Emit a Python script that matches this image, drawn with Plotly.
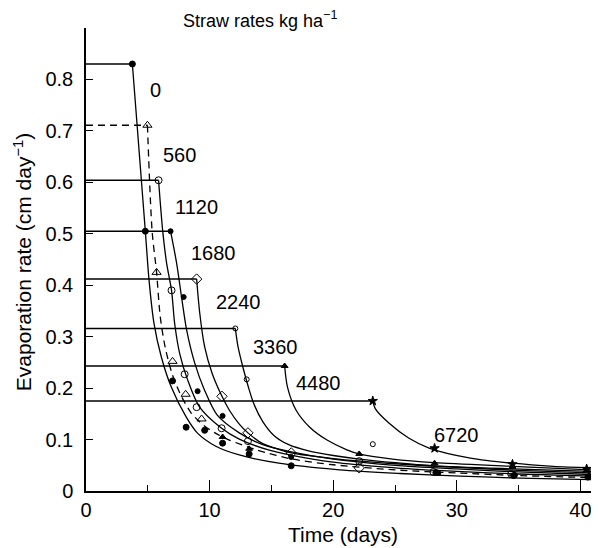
import plotly.graph_objects as go

FONT = "Liberation Sans, Arial, Helvetica, sans-serif"

# Straw rates (kg/ha) labels
rates = ["0", "560", "1120", "1680", "2240", "3360", "4480", "6720"]

# Stage-1 constant rate: level and end day
start_day = [3.75, 4.97, 5.87, 6.84, 8.95, 12.08, 16.07, 23.2]
start_rate = [0.83, 0.711, 0.604, 0.505, 0.412, 0.316, 0.243, 0.175]

# Falling-rate curves (days, cm/day)
c0_x = [3.75, 4.8, 5.1, 5.5, 6.1, 6.9, 8.1, 9.0, 10.5, 12.4, 15.6, 20.5, 25.4, 30.3, 35.1, 41.0]
c0_y = [0.83, 0.505, 0.41, 0.326, 0.26, 0.202, 0.144, 0.113, 0.087, 0.070, 0.054, 0.041, 0.034, 0.029, 0.025, 0.022]
c1_x = [4.97, 5.35, 5.71, 6.0, 6.4, 6.95, 7.6, 8.5, 9.5, 10.5, 11.6, 13.8, 16.7, 20.0, 25.0, 30.0, 35.0, 41.0]
c1_y = [0.711, 0.505, 0.425, 0.34, 0.28, 0.229, 0.19, 0.152, 0.128, 0.112, 0.099, 0.080, 0.062, 0.051, 0.041, 0.035, 0.030, 0.026]
c2_x = [5.87, 6.2, 6.52, 6.92, 7.17, 7.57, 8.22, 9.19, 10.97, 12.4, 14.9, 20.0, 25.0, 30.0, 35.0, 41.0]
c2_y = [0.604, 0.507, 0.443, 0.39, 0.326, 0.268, 0.216, 0.163, 0.122, 0.101, 0.079, 0.056, 0.045, 0.038, 0.033, 0.029]
c3_x = [6.84, 7.33, 7.73, 8.14, 8.79, 9.59, 10.6, 12.4, 14.3, 16.6, 20.0, 25.0, 30.0, 35.0, 41.0]
c3_y = [0.505, 0.443, 0.377, 0.313, 0.249, 0.196, 0.148, 0.113, 0.090, 0.076, 0.062, 0.050, 0.043, 0.037, 0.032]
c4_x = [8.95, 9.2, 9.6, 10.2, 11.0, 11.6, 12.4, 13.1, 14.3, 15.7, 16.6, 20.0, 25.0, 30.0, 35.0, 41.0]
c4_y = [0.412, 0.346, 0.28, 0.229, 0.184, 0.157, 0.130, 0.113, 0.092, 0.080, 0.074, 0.063, 0.053, 0.046, 0.040, 0.035]
c5_x = [12.08, 12.3, 12.7, 13.1, 13.6, 14.3, 15.2, 16.4, 18.0, 20.0, 22.1, 25.0, 28.2, 34.5, 41.0]
c5_y = [0.316, 0.28, 0.24, 0.205, 0.168, 0.135, 0.108, 0.090, 0.078, 0.069, 0.062, 0.055, 0.049, 0.043, 0.038]
c6_x = [16.07, 16.3, 17.0, 18.1, 19.5, 21.1, 22.1, 24.8, 28.2, 34.5, 41.0]
c6_y = [0.243, 0.202, 0.157, 0.124, 0.099, 0.080, 0.072, 0.062, 0.055, 0.048, 0.041]
c7_x = [23.2, 23.4, 24.5, 26.1, 27.8, 31.1, 34.5, 37.8, 41.0]
c7_y = [0.175, 0.160, 0.132, 0.103, 0.083, 0.064, 0.054, 0.048, 0.045]

# Measured points
m0_x = [3.75, 4.8, 7.0, 8.1, 9.6, 11.05, 13.2, 16.6, 28.3, 34.6, 40.6]
m0_y = [0.83, 0.505, 0.214, 0.124, 0.118, 0.093, 0.072, 0.049, 0.036, 0.030, 0.027]
m1_x = [4.97, 5.71, 7.0, 8.06, 9.35]
m1_y = [0.711, 0.425, 0.252, 0.188, 0.140]
m2_x = [5.87, 6.92, 7.98, 8.95, 10.97, 13.1, 22.1, 28.1, 34.4]
m2_y = [0.604, 0.39, 0.227, 0.163, 0.122, 0.097, 0.058, 0.037, 0.033]
m3_x = [6.84, 7.9, 9.03, 11.05, 16.6, 28.5, 34.7, 40.7]
m3_y = [0.505, 0.377, 0.194, 0.146, 0.066, 0.035, 0.031, 0.029]
m4_x = [8.95, 11.0, 13.1, 16.6, 22.1]
m4_y = [0.412, 0.184, 0.113, 0.074, 0.045]
m5_x = [12.08, 13.0, 23.2]
m5_y = [0.316, 0.217, 0.091]
m6_x = [16.07, 22.1, 28.2, 34.5, 40.5, 11.05, 13.2]
m6_y = [0.243, 0.072, 0.054, 0.047, 0.040, 0.105, 0.082]
m7_x = [23.2, 28.2, 34.5, 40.5]
m7_y = [0.175, 0.083, 0.052, 0.043]

# Label positions for the rate labels
lab_x = [5.6, 7.6, 8.9, 10.3, 12.3, 15.3, 18.8, 30.0]
lab_y = [0.78, 0.654, 0.553, 0.462, 0.367, 0.280, 0.210, 0.109]

curves_x = [c0_x, c1_x, c2_x, c3_x, c4_x, c5_x, c6_x, c7_x]
curves_y = [c0_y, c1_y, c2_y, c3_y, c4_y, c5_y, c6_y, c7_y]
marks_x = [m0_x, m1_x, m2_x, m3_x, m4_x, m5_x, m6_x, m7_x]
marks_y = [m0_y, m1_y, m2_y, m3_y, m4_y, m5_y, m6_y, m7_y]

dashes = ["solid", "7px,5px", "solid", "solid", "solid", "solid", "solid", "solid"]
symbols = ["circle", "triangle-up-open", "circle-open", "circle", "diamond-open",
           "circle-open", "triangle-up", "star"]
sizes = [6, 8, 7, 5, 8, 5, 6, 7]

fig = go.Figure()
for i in range(len(rates)):
    fig.add_trace(go.Scatter(
        x=[0, start_day[i]], y=[start_rate[i], start_rate[i]], mode="lines",
        line=dict(color="black", width=1.5, dash=dashes[i]), showlegend=False,
        hoverinfo="skip"))
    fig.add_trace(go.Scatter(
        x=curves_x[i], y=curves_y[i], mode="lines",
        line=dict(color="black", width=1.3, dash=dashes[i], shape="spline", smoothing=0.8),
        showlegend=False, hoverinfo="skip"))
    fig.add_trace(go.Scatter(
        x=marks_x[i], y=marks_y[i], mode="markers", name=rates[i],
        marker=dict(symbol=symbols[i], size=sizes[i], color="black",
                    line=dict(color="black", width=1)),
        showlegend=False))
    fig.add_annotation(x=lab_x[i], y=lab_y[i], text=rates[i], showarrow=False,
                       xanchor="center", yanchor="middle",
                       font=dict(family=FONT, size=20, color="black"))

fig.add_annotation(x=0.339, y=1.018, xref="paper", yref="paper",
                   text="Straw rates kg ha<sup>−1</sup>", showarrow=False,
                   xanchor="center", yanchor="middle",
                   font=dict(family=FONT, size=18, color="black"))
fig.add_annotation(x=-0.124, y=0.495, xref="paper", yref="paper",
                   text="Evaporation rate (cm day<sup>−1</sup>)", showarrow=False,
                   textangle=-90, xanchor="center", yanchor="middle",
                   font=dict(family=FONT, size=21, color="black"))
fig.add_annotation(x=0.5, y=-0.095, xref="paper", yref="paper",
                   text="Time (days)", showarrow=False,
                   xanchor="center", yanchor="middle",
                   font=dict(family=FONT, size=21, color="black"))

# page body adds an 8px offset, so the figure is sized 8px smaller
fig.update_layout(
    width=591, height=540,
    margin=dict(l=78, r=0, t=20, b=57),
    plot_bgcolor="white", paper_bgcolor="white",
    font=dict(family=FONT, size=20, color="black"),
    xaxis=dict(range=[0, 41.5], tickvals=[0, 10, 20, 30, 40], ticks="inside",
               ticklen=11, tickwidth=1.3, tickcolor="black", showgrid=False,
               zeroline=False, showline=True, linecolor="black", linewidth=1.5,
               ticklabelstandoff=0,
               minor=dict(tickvals=[5, 15, 25, 35], ticks="inside", ticklen=6,
                          tickwidth=1.3, tickcolor="black", showgrid=False)),
    yaxis=dict(range=[0, 0.9], tickvals=[0, 0.1, 0.2, 0.3, 0.4, 0.5, 0.6, 0.7, 0.8],
               ticktext=["0", "0.1", "0.2", "0.3", "0.4", "0.5", "0.6", "0.7", "0.8"],
               ticks="inside", ticklen=7, tickwidth=1.3, tickcolor="black",
               showgrid=False, zeroline=False, showline=True, linecolor="black",
               linewidth=1.5, ticklabelstandoff=7),
)

fig.write_html("out.html")
